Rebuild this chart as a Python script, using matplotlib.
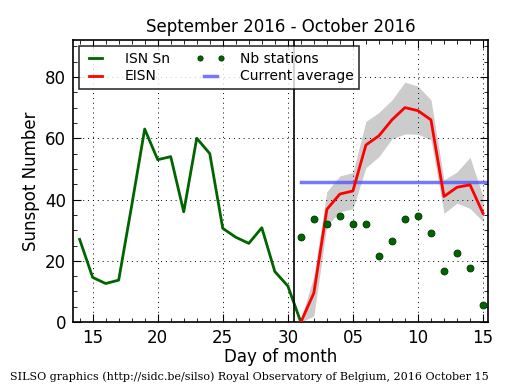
import matplotlib
matplotlib.use("Agg")
import matplotlib.pyplot as plt
from matplotlib.legend_handler import HandlerLine2D
import numpy as np

# day index: Sep 14 = 14 ... Sep 30 = 30, Oct 1 = 31 ... Oct 15 = 45
isn_days = list(range(14, 32))
isn_sn = [27, 14.6, 12.6, 13.7, 38, 63, 53, 54, 36, 60, 55, 30.6, 27.7, 25.7, 30.8, 16.5, 11.8, 0]

eisn_days = list(range(31, 46))
eisn = [0, 9.5, 36.8, 41.8, 42.8, 57.8, 60.8, 66, 70, 69, 66, 41, 44, 44.8, 35.5]
eisn_hi = [1, 15, 42.6, 47.7, 48.8, 65.5, 68.4, 72.5, 78.3, 77, 72.5, 46.4, 49, 53.8, 41]
eisn_lo = [0, 2, 31.5, 36, 37, 50.4, 54, 59.8, 61.4, 61.3, 59.5, 35.5, 38.8, 37.1, 32.8]

nb_stations = [27.9, 33.7, 31.9, 34.7, 31.9, 31.9, 21.7, 26.6, 33.7, 34.7, 29, 16.8, 22.7, 17.8, 5.6]

current_avg = 45.6

xtick_pos = [15, 20, 25, 30, 35, 40, 45]
xtick_labels = ['15', '20', '25', '30', '05', '10', '15']

fig = plt.figure(figsize=(5.15, 3.9), dpi=100)
ax = fig.add_axes([0.142, 0.174, 0.806, 0.723])

ax.fill_between(eisn_days, eisn_lo, eisn_hi, color='#cccccc', linewidth=0, zorder=1)
ax.plot(isn_days, isn_sn, color='#006400', lw=2, label='ISN Sn', zorder=3)
ax.plot(eisn_days, eisn, color='red', lw=2, label='EISN', zorder=4)
nb_line, = ax.plot(eisn_days, nb_stations, 'o', color='#006400', markeredgecolor='#003300',
                   markeredgewidth=0.6, markersize=5, label='Nb stations', zorder=5)
ax.plot([31, 45.5], [current_avg, current_avg], color='#5555ff', lw=2.5, alpha=0.8,
        label='Current average', zorder=2)
ax.axvline(30.5, color='black', lw=1.2, zorder=3)

ax.set_xlim(13.5, 45.4)
ax.set_ylim(0, 92)
ax.set_xticks(xtick_pos)
ax.set_xticklabels(xtick_labels)
ax.set_xticks(np.arange(14, 46), minor=True)
ax.set_yticks([0, 20, 40, 60, 80])
ax.set_yticks(np.arange(0, 92, 5), minor=True)
ax.tick_params(which='both', direction='in', top=True, right=True, labelsize=12)
ax.tick_params(which='major', length=6, pad=5)
ax.tick_params(which='minor', length=3)
ax.grid(True, which='major', color='black', linestyle=(0, (1, 4)), linewidth=0.7)
for s in ax.spines.values():
    s.set_linewidth(1.2)

ax.set_title('September 2016 - October 2016', fontsize=12)
ax.set_xlabel('Day of month', fontsize=12, labelpad=1)
ax.set_ylabel('Sunspot Number', fontsize=12)

leg = ax.legend(loc='upper left', ncol=2, numpoints=2, fontsize=10, fancybox=False,
                borderaxespad=0.45, handlelength=1.5, columnspacing=2.2,
                handletextpad=1.35, labelspacing=0.25, borderpad=0.4, markerscale=0.75,
                handler_map={nb_line: HandlerLine2D(numpoints=2, marker_pad=0)})
leg.get_frame().set_edgecolor('black')
leg.get_frame().set_linewidth(1.2)

fig.text(0.02, 0.025, 'SILSO graphics (http://sidc.be/silso) Royal Observatory of Belgium, 2016 October 15',
         family='DejaVu Serif', fontsize=8)

fig.savefig('out.png', dpi=100)
